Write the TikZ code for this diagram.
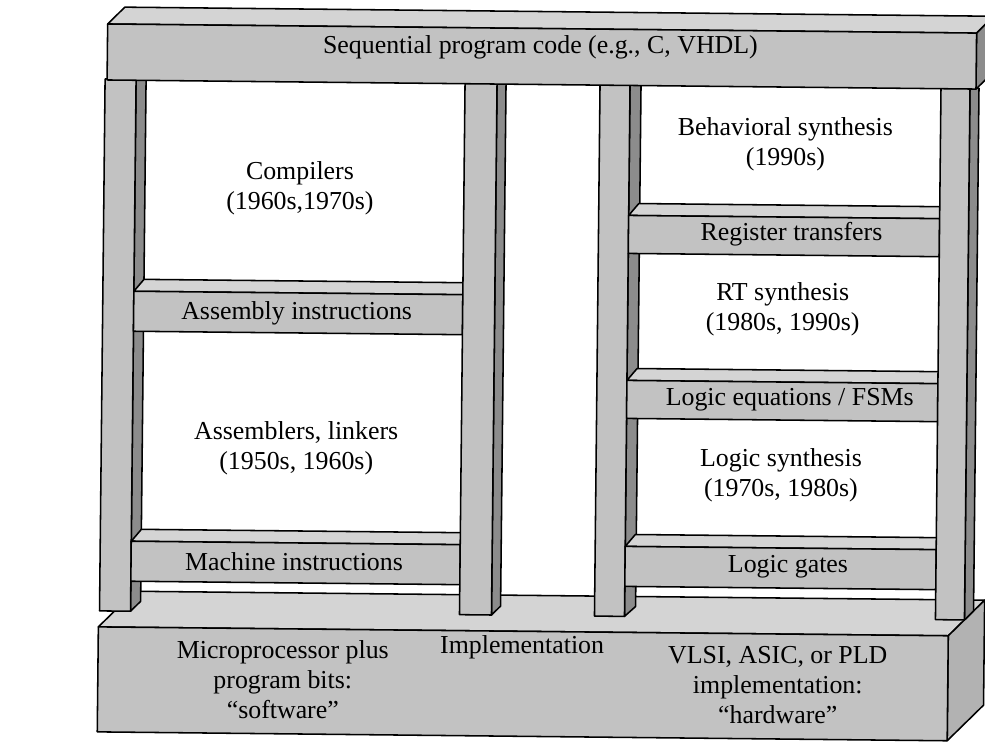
\documentclass[tikz,border=0pt]{standalone}
\usepackage{fontspec}
\setmainfont{Liberation Serif}
\begin{document}
\begin{tikzpicture}[
  x = 0.025cm,
  y = -0.025cm,
  front/.style = {
    draw = black,
    fill = black!24
  },
  topface/.style = {
    draw = black,
    fill = black!17
  },
  sideface/.style = {
    draw = black,
    fill = black!45
  },
  layertext/.style = {
    align = center,
    inner sep = 0pt,
    font = \fontsize{18.4}{21.5}\selectfont
  },
  every path/.style = {
    line width = 1.1pt,
    line join = round
  }
]
  \useasboundingbox (0, 0) rectangle (985, 748);
  \begin{scope}[rotate around = {-0.6:(492, 374)}]
  \draw[topface] (101, 631) -- (137, 595) -- (987, 595) -- (951, 631) -- cycle;
  \draw[sideface, fill = black!30] (951, 631) -- (987, 595) -- (987, 700) -- (951, 736) -- cycle;
  \draw[front] (101, 631) rectangle (951, 736);

  \draw[sideface] (133, 83) -- (143, 83) -- (143, 605) -- (133, 615) -- cycle;
  \draw[front] (102, 83) rectangle (133, 615);

  \draw[topface] (133, 295) -- (143, 283) -- (472, 283) -- (462, 295) -- cycle;
  \draw[front] (133, 295) rectangle (462, 335);
  \draw[topface] (133, 545) -- (143, 533) -- (472, 533) -- (462, 545) -- cycle;
  \draw[front] (133, 545) rectangle (462, 585);

  \draw[sideface] (494, 83) -- (503, 83) -- (503, 606) -- (494, 615) -- cycle;
  \draw[front] (462, 83) rectangle (494, 615);
  \draw[sideface] (627, 83) -- (638, 83) -- (638, 605) -- (627, 615) -- cycle;
  \draw[front] (597, 83) rectangle (627, 615);

  \draw[topface] (627, 214) -- (637, 202) -- (948, 202) -- (938, 214) -- cycle;
  \draw[front] (627, 214) rectangle (938, 252);
  \draw[topface] (627, 379) -- (637, 367) -- (948, 367) -- (938, 379) -- cycle;
  \draw[front] (627, 379) rectangle (938, 417);
  \draw[topface] (627, 545) -- (637, 533) -- (948, 533) -- (938, 545) -- cycle;
  \draw[front] (627, 545) rectangle (938, 585);

  \draw[sideface] (967, 83) -- (976, 83) -- (976, 606) -- (967, 615) -- cycle;
  \draw[front] (938, 83) rectangle (967, 615);

  \draw[topface] (104, 28) -- (121, 11) -- (990, 11) -- (973, 28) -- cycle;
  \draw[sideface] (973, 28) -- (990, 11) -- (990, 67) -- (973, 84) -- cycle;
  \draw[front] (104, 28) rectangle (973, 84);

  \node[layertext] (code) at (537, 47) {Sequential program code (e.g., C, VHDL)};
  \node[layertext] (compilers) at (298, 190) {Compilers\\(1960s,1970s)};
  \node[layertext] (asm) at (296, 315) {Assembly instructions};
  \node[layertext] (assemblers) at (297, 450) {Assemblers, linkers\\(1950s, 1960s)};
  \node[layertext] (machine) at (296, 564) {Machine instructions};
  \node[layertext] (behav) at (783, 141) {Behavioral synthesis\\(1990s)};
  \node[layertext] (rtl) at (790, 231) {Register transfers};
  \node[layertext] (rtsyn) at (782, 306) {RT synthesis\\(1980s, 1990s)};
  \node[layertext] (fsm) at (790, 397) {Logic equations / FSMs};
  \node[layertext] (logsyn) at (782, 472) {Logic synthesis\\(1970s, 1980s)};
  \node[layertext] (gates) at (790, 564) {Logic gates};
  \node[layertext] (sw) at (286, 682) {Microprocessor plus\\program bits:\\“software”};
  \node[layertext] (impl) at (525, 647) {Implementation};
  \node[layertext] (hw) at (781, 682) {VLSI, ASIC, or PLD\\implementation:\\“hardware”};
  \end{scope}
\end{tikzpicture}
\end{document}
